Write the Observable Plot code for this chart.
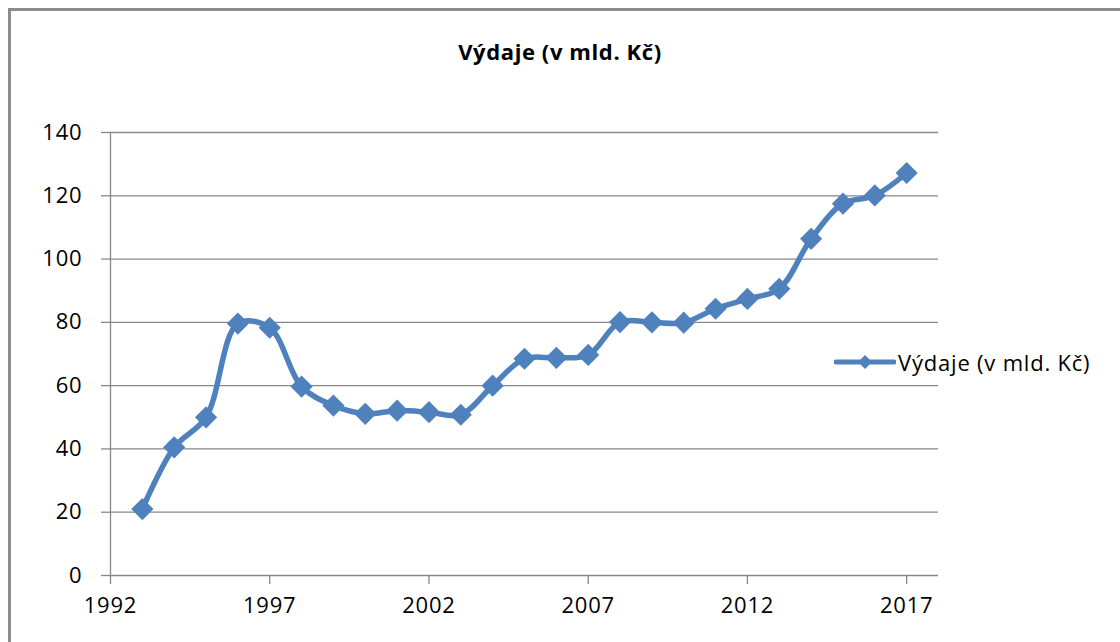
<!DOCTYPE html>
<html>
<head>
<meta charset="utf-8">
<script src="https://cdn.jsdelivr.net/npm/d3@7"></script>
<script src="https://cdn.jsdelivr.net/npm/@observablehq/plot@0.6"></script>
<style>
  html, body { margin: 0; padding: 0; background: #fff; }
  #wrap { position: relative; width: 1120px; height: 642px; overflow: hidden; background: #fff; font-family: "Open Sans", sans-serif; }
  #frame { position: absolute; left: 8px; top: 8px; width: 1200px; height: 700px; border-left: 3px solid #8c8c8c; border-top: 3px solid #8c8c8c; box-sizing: border-box; pointer-events: none; }
  #title { height: 100px; line-height: 102px; text-align: center; font-weight: bold; font-size: 22px; letter-spacing: 0.6px; color: #000; }
  #legend { position: absolute; left: 834px; top: 347px; display: flex; align-items: center; font-size: 22px; letter-spacing: 0.8px; color: #000; white-space: nowrap; }
  #legend svg { margin-right: 2px; }
</style>
</head>
<body>
<div id="wrap">
  <div id="title">Výdaje (v mld. Kč)</div>
  <div id="chart"></div>
  <div id="legend"></div>
  <div id="frame"></div>
</div>
<script>
const seriesName = "Výdaje (v mld. Kč)";
const years = [1993, 1994, 1995, 1996, 1997, 1998, 1999, 2000, 2001, 2002, 2003, 2004, 2005,
               2006, 2007, 2008, 2009, 2010, 2011, 2012, 2013, 2014, 2015, 2016, 2017];
const values = [21, 40.5, 50, 79.6, 78.3, 59.7, 53.7, 51.1, 52.1, 51.6, 50.8, 60, 68.5,
                68.8, 69.7, 80.1, 80, 79.9, 84.3, 87.4, 90.6, 106.4, 117.5, 120.1, 127.2];
const xTicks = [1992, 1997, 2002, 2007, 2012, 2017];
const yTicks = [0, 20, 40, 60, 80, 100, 120, 140];

const data = years.map((year, i) => ({year, value: values[i]}));
const blue = "#4F81BD";
const grid = "#878787";

const chart = Plot.plot({
  width: 1120,
  height: 542,
  marginLeft: 110,
  marginRight: 182,
  marginTop: 32,
  marginBottom: 67,
  style: {fontFamily: "'Open Sans', sans-serif", fontSize: "22px", letterSpacing: "0.8px", color: "#000", background: "transparent", overflow: "visible"},
  x: {domain: [1992, 2018]},
  y: {domain: [0, 140]},
  marks: [
    Plot.ruleY(yTicks.filter(d => d > 0), {x1: 1992, x2: 2018, stroke: grid, strokeWidth: 1.3}),
    Plot.axisY(yTicks, {tickSize: 9, tickPadding: 19, stroke: grid, fill: "#000", label: null, strokeWidth: 1.3}),
    Plot.axisX(xTicks, {tickSize: 9, tickPadding: 13, stroke: grid, fill: "#000", label: null, tickFormat: d => String(d), strokeWidth: 1.3}),
    Plot.ruleX([1992], {stroke: grid, strokeWidth: 1.3}),
    Plot.ruleY([0], {x1: 1992, x2: 2018, stroke: grid, strokeWidth: 1.3}),
    Plot.line(data, {x: "year", y: "value", curve: "catmull-rom", stroke: blue, strokeWidth: 5.5}),
    Plot.dot(data, {x: "year", y: "value", symbol: "diamond2", r: 10, fill: blue, stroke: "none"})
  ]
});
document.getElementById("chart").appendChild(chart);

// legend
const legend = document.getElementById("legend");
const ns = "http://www.w3.org/2000/svg";
const sw = document.createElementNS(ns, "svg");
sw.setAttribute("width", "62");
sw.setAttribute("height", "30");
const ln = document.createElementNS(ns, "line");
ln.setAttribute("x1", "2"); ln.setAttribute("x2", "60");
ln.setAttribute("y1", "15"); ln.setAttribute("y2", "15");
ln.setAttribute("stroke", blue); ln.setAttribute("stroke-width", "5");
ln.setAttribute("stroke-linecap", "round");
sw.appendChild(ln);
const dm = document.createElementNS(ns, "path");
dm.setAttribute("d", "M31,8L38,15L31,22L24,15Z");
dm.setAttribute("fill", blue);
sw.appendChild(dm);
legend.appendChild(sw);
const lt = document.createElement("span");
lt.textContent = seriesName;
legend.appendChild(lt);
</script>
</body>
</html>
